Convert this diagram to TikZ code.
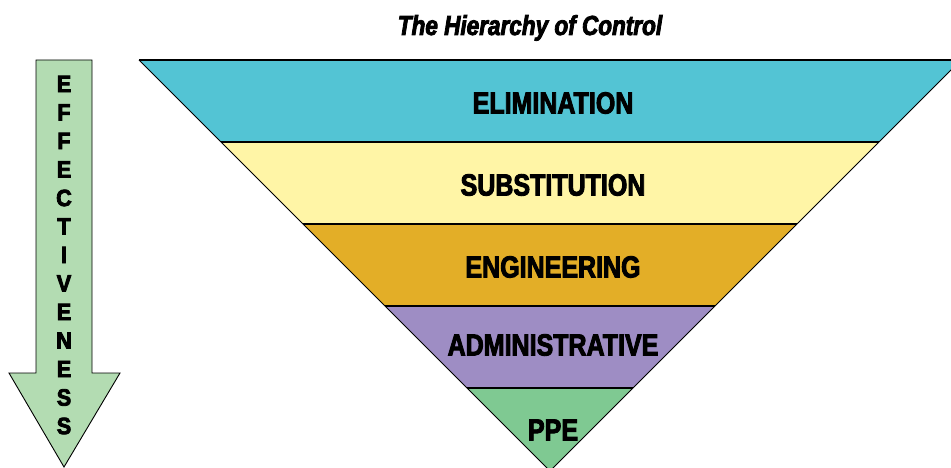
\documentclass[tikz,border=0pt]{standalone}
\usepackage{fontspec}
\setmainfont{Liberation Sans}[FakeStretch=0.82, BoldFeatures={FakeBold=3}, BoldItalicFeatures={FakeBold=3}]
\newfontfamily\arrowfont{Liberation Sans Bold}[FakeStretch=0.92, FakeBold=3.5]
\definecolor{cElim}{HTML}{53C4D4}
\definecolor{cSubs}{HTML}{FFF5A6}
\definecolor{cEng}{HTML}{E3AE27}
\definecolor{cAdm}{HTML}{9E8DC4}
\definecolor{cPPE}{HTML}{7FC992}
\definecolor{cArrow}{HTML}{B3DCB2}
\tikzset{
  sep/.style={line width=1.3pt, black},
  edge/.style={line width=1pt, black},
  lbl/.style={font=\fontsize{30.5}{32}\selectfont\bfseries, inner sep=0pt},
  arrowletter/.style={font=\fontsize{23.5}{25}\arrowfont, inner sep=0pt},
}
\begin{document}
\begin{tikzpicture}[x=1pt,y=-1pt]
\useasboundingbox (0,0) rectangle (951,468);
% bands
\fill[cElim] (139,60) -- (961,60) -- (879,142) -- (221,142) -- cycle;
\fill[cSubs] (221,142) -- (879,142) -- (797,224) -- (303,224) -- cycle;
\fill[cEng] (303,224) -- (797,224) -- (715,306) -- (385,306) -- cycle;
\fill[cAdm] (385,306) -- (715,306) -- (633,388) -- (467,388) -- cycle;
\fill[cPPE] (467,388) -- (633,388) -- (550,471) -- cycle;
% outline
\draw[edge] (139,60) -- (550,471) -- (961,60);
\draw[line width=2pt] (139,60) -- (961,60);
\draw[sep] (221,142) -- (879,142);
\draw[sep] (303,224) -- (797,224);
\draw[sep] (385,306) -- (715,306);
\draw[sep] (467,388) -- (633,388);
% labels
\node[lbl] (elim) at (553,103) {ELIMINATION};
\node[lbl] (subs) at (553,185) {SUBSTITUTION};
\node[lbl] (eng) at (553,267) {ENGINEERING};
\node[lbl] (adm) at (553,345) {ADMINISTRATIVE};
\node[lbl] (ppe) at (553,430) {PPE};
% title
\node[font=\fontsize{27.5}{29}\selectfont\bfseries\itshape, inner sep=0pt, anchor=base] (title) at (530,35) {The Hierarchy of Control};
% arrow
\draw[fill=cArrow, line width=0.9pt] (36,60) -- (92,60) -- (92,373) -- (120,373) -- (64,467) -- (9,373) -- (36,373) -- cycle;
\foreach \ch [count=\i from 0] in {E,F,F,E,C,T,I,V,E,N,E,S,S} {
  \node[arrowletter] (l\i) at (64,84+28.5*\i) {\ch};
}
\end{tikzpicture}
\end{document}
